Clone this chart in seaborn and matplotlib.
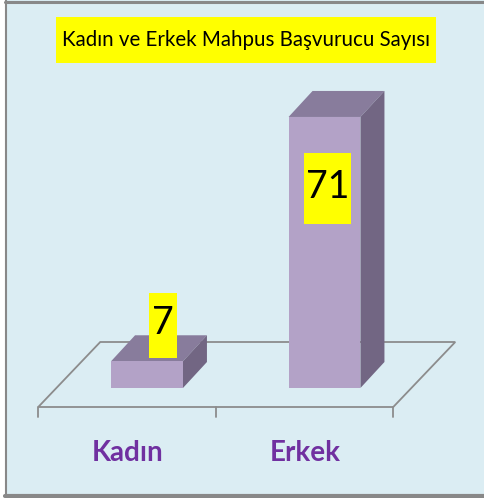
import matplotlib
matplotlib.use("Agg")
import matplotlib.pyplot as plt
from matplotlib.patches import Polygon, Rectangle
from matplotlib.lines import Line2D
from matplotlib.transforms import IdentityTransform
import seaborn as sns
import pandas as pd

# данные
categories = ["Kadın", "Erkek"]
counts = [7, 71]
title = "Kadın ve Erkek Mahpus Başvurucu Sayısı"

# цвета
BG = "#DBEDF3"
FRONT = "#B3A2C7"
TOP = "#887C9C"
SIDE = "#726683"
PURPLE = "#7030A0"
GRAY = "#8C8C8C"

W, H, DPI = 484, 498, 100
FONT = ["Liberation Sans Narrow", "Lato", "DejaVu Sans"]

sns.set_style("white")
plt.rcParams["font.family"] = FONT

df = pd.DataFrame({"kategori": categories, "sayi": counts})

fig = plt.figure(figsize=(W / DPI, H / DPI), dpi=DPI, facecolor=BG)
ax = fig.add_axes([58.25 / W, 1 - 388 / H, 355 / W, 305.4 / H])
ax.set_facecolor("none")
sns.barplot(data=df, x="kategori", y="sayi", color=FRONT, width=0.405,
            saturation=1, ax=ax, zorder=3, linewidth=0)
ax.set_xlim(-0.5, 1.5)
ax.set_ylim(0, 80)
ax.axis("off")

ident = IdentityTransform()
to_px = ax.transData.transform

# пол (параллелограмм) — в пикселях от осей
fl, fr = to_px((-0.5, 0)), to_px((1.5, 0))
front_l, front_r = (fl[0] - 20, fl[1] - 19), (fr[0] - 20, fr[1] - 19)
back_l, back_r = (fl[0] + 42, fl[1] + 46), (fr[0] + 42, fr[1] + 46)
ax.add_patch(Polygon([front_l, front_r, back_r, back_l], closed=True,
                     fill=False, edgecolor=GRAY, lw=1.3,
                     transform=ident, zorder=1, clip_on=False))
for xv in [-0.5, 0.5, 1.5]:
    px = to_px((xv, 0))[0] - 20
    ax.add_line(Line2D([px, px], [front_l[1], front_l[1] - 10],
                       color=GRAY, lw=1.3, transform=ident, zorder=1,
                       clip_on=False))

# 3D грани баров
DX, DY = 24, 26
for bar in list(ax.patches):
    if not isinstance(bar, Rectangle):
        continue
    (x0, y0), (x1, y1) = ax.transData.transform(
        [(bar.get_x(), bar.get_y()),
         (bar.get_x() + bar.get_width(), bar.get_y() + bar.get_height())])
    top = [(x0, y1), (x1, y1), (x1 + DX, y1 + DY), (x0 + DX, y1 + DY)]
    side = [(x1, y0), (x1 + DX, y0 + DY), (x1 + DX, y1 + DY), (x1, y1)]
    ax.add_patch(Polygon(top, closed=True, facecolor=TOP, lw=0,
                         transform=ident, zorder=2, clip_on=False))
    ax.add_patch(Polygon(side, closed=True, facecolor=SIDE, lw=0,
                         transform=ident, zorder=2, clip_on=False))

# подписи значений
label_offsets = [(16, 38), (3, -70)]
value_texts = []
for i, (v, off) in enumerate(zip(counts, label_offsets)):
    t = ax.annotate(str(v), (i, v), xytext=off, textcoords="offset pixels",
                    ha="center", va="center", fontsize=27, color="black",
                    zorder=6, annotation_clip=False)
    value_texts.append(t)

# категории
for i, c in enumerate(categories):
    ax.annotate(c, (i, 0), xytext=(-19, -65), textcoords="offset pixels",
                ha="center", va="center", fontsize=20, fontweight="bold",
                color=PURPLE, annotation_clip=False)

# заголовок
title_text = ax.text(246, H - 40, title, ha="center", va="center",
                     fontsize=14.8, color="black", zorder=6,
                     transform=ident, clip_on=False)

# жёлтые подложки по размеру текста
fig.canvas.draw()
rend = fig.canvas.get_renderer()


def yellow_box(txt, pad_x, height, dy=0):
    bb = txt.get_window_extent(rend)
    cx, cy = (bb.x0 + bb.x1) / 2, (bb.y0 + bb.y1) / 2 + dy
    w = bb.width + 2 * pad_x
    ax.add_patch(Rectangle((cx - w / 2, cy - height / 2), w, height,
                           facecolor="#FFFF00", lw=0, transform=ident,
                           zorder=5, clip_on=False))


yellow_box(value_texts[0], 3.5, 65, dy=-2)
yellow_box(value_texts[1], 2, 71, dy=-2)
yellow_box(title_text, 6, 46)

# рамка
fig.patches.append(Rectangle((0, 0), 5, H, facecolor="white", lw=0,
                             transform=ident, zorder=7))
fig.lines.append(Line2D([5, W], [H - 1.5, H - 1.5], color="#888888", lw=2.2,
                        transform=ident, zorder=8))
fig.lines.append(Line2D([6, 6], [0, H], color="#888888", lw=1.5,
                        transform=ident, zorder=8))
fig.lines.append(Line2D([5, W], [2, 2], color="#888888", lw=3,
                        transform=ident, zorder=8))

fig.savefig("out.png", dpi=DPI, facecolor=BG)
plt.close(fig)
